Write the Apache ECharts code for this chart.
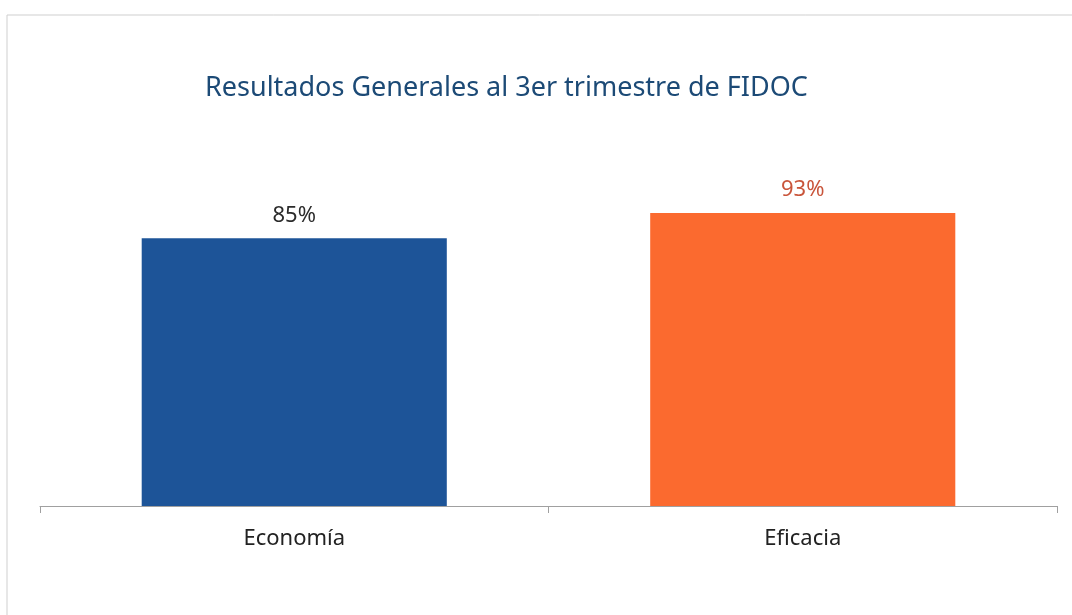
<!DOCTYPE html>
<html>
<head>
<meta charset="utf-8">
<script src="https://cdn.jsdelivr.net/npm/echarts@6/dist/echarts.min.js"></script>
<style>
  html, body { margin: 0; padding: 0; background: #fff; }
  #chart { width: 1072px; height: 615px; }
</style>
</head>
<body>
<div id="chart"></div>
<script>
const categories = ['Economía', 'Eficacia'];
const values = [85, 93];
const barColors = ['#1d5498', '#fb6a2f'];
const labelColors = ['#2b2b2b', '#c9553b'];

const chart = echarts.init(document.getElementById('chart'));

chart.setOption({
  backgroundColor: '#ffffff',
  title: {
    text: 'Resultados Generales al 3er trimestre de FIDOC',
    left: 200,
    top: 70,
    textStyle: {
      fontFamily: 'Noto Sans',
      fontSize: 27,
      fontWeight: 'normal',
      color: '#1c4a76',
    },
  },
  graphic: [
    {
      type: 'polyline',
      shape: { points: [[7, 615], [7, 15], [1072, 15]] },
      style: { stroke: '#cfcfcf', lineWidth: 1, fill: null },
      silent: true,
    },
  ],
  grid: { left: 40, right: 15, top: 191, bottom: 109 },
  xAxis: {
    type: 'category',
    data: categories,
    axisLine: { lineStyle: { color: '#a0a0a0', width: 1 } },
    axisTick: { show: true, inside: false, length: 7, lineStyle: { color: '#a0a0a0' } },
    axisLabel: {
      margin: 22,
      fontFamily: 'Noto Sans',
      fontSize: 22,
      color: '#222',
    },
  },
  yAxis: {
    type: 'value',
    min: 0,
    max: 100,
    show: false,
    splitLine: { show: false },
  },
  series: [{
    type: 'bar',
    barWidth: '60%',
    data: values.map((v, i) => ({
      value: v,
      itemStyle: { color: barColors[i] },
      label: { color: labelColors[i] },
    })),
    label: {
      show: true,
      position: 'top',
      distance: 12,
      fontFamily: 'Noto Sans',
      fontSize: 22,
      formatter: (p) => p.value + '%',
    },
  }],
});
</script>
</body>
</html>
